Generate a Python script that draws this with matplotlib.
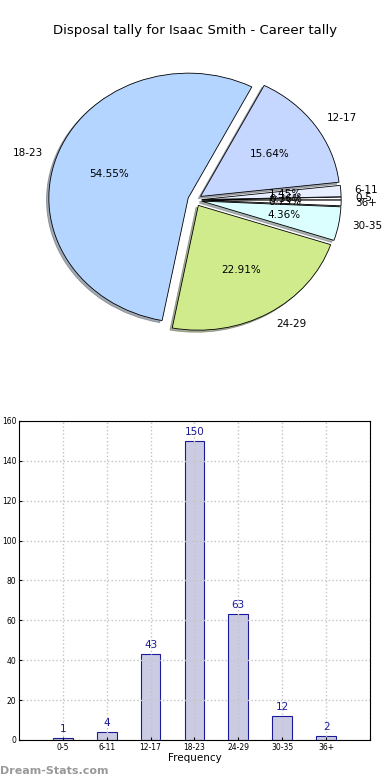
import numpy as np
import matplotlib
matplotlib.use("Agg")
import matplotlib.pyplot as plt

groups = ['0-5', '6-11', '12-17', '18-23', '24-29', '30-35', '36+']
counts = [1, 4, 43, 150, 63, 12, 2]
pie_colors = ['#ffffff', '#e8eeff', '#c5d7ff', '#b3d5ff', '#cfeb8c', '#dbffff', '#ffffff']

fig = plt.figure(figsize=(3.9, 7.8), dpi=100)
fig.text(0.5, 0.961, 'Disposal tally for Isaac Smith - Career tally',
         ha='center', va='center', fontsize=9.5)

# pie (old-style: not forced round)
ax1 = fig.add_axes([0.051, 0.5436, 0.897, 0.40])
wedges, texts, autotexts = ax1.pie(counts, labels=groups, colors=pie_colors,
                                   explode=[0.05] * len(counts),
                                   shadow={'ox': -0.012, 'oy': -0.012, 'shade': 0.6},
                                   autopct='%1.2f%%', startangle=0,
                                   labeldistance=1.1, pctdistance=0.6,
                                   wedgeprops=dict(edgecolor='black', linewidth=0.6),
                                   textprops=dict(fontsize=7.5))
ax1.set_aspect('auto')
ax1.set_xlim(-1.255, 1.255)
ax1.set_ylim(-1.25, 1.25)
ax1.axis('off')

# bar chart
ax2 = fig.add_axes([0.0487, 0.0513, 0.9, 0.409])
x = np.arange(len(groups))
bars = ax2.bar(x, counts, width=0.45, color='#cbcce4', edgecolor='#1a1a99', linewidth=0.8, zorder=1)
for xi, c in zip(x, counts):
    ax2.text(xi, c + 2, str(c), ha='center', va='bottom', color='#1a1a99', fontsize=7.5)
ax2.set_xlim(-1, 7)
ax2.set_ylim(0, 160)
ax2.set_xticks(list(x) + [7])
ax2.set_xticklabels(groups + [''])
ax2.set_yticks(range(0, 161, 20))
ax2.tick_params(labelsize=5.5, length=2, direction='in', pad=2)
ax2.grid(True, linestyle=':', color='#c4c4c4', linewidth=1.0, zorder=3)
ax2.set_axisbelow(False)
for sp in ax2.spines.values():
    sp.set_zorder(5)
ax2.set_xlabel('Frequency', fontsize=7.5, labelpad=1)

fig.text(0.0, 0.0115, 'Dream-Stats.com', fontsize=8, color='#999999', fontweight='bold',
         ha='left', va='center')

plt.savefig('out.png', dpi=100)
